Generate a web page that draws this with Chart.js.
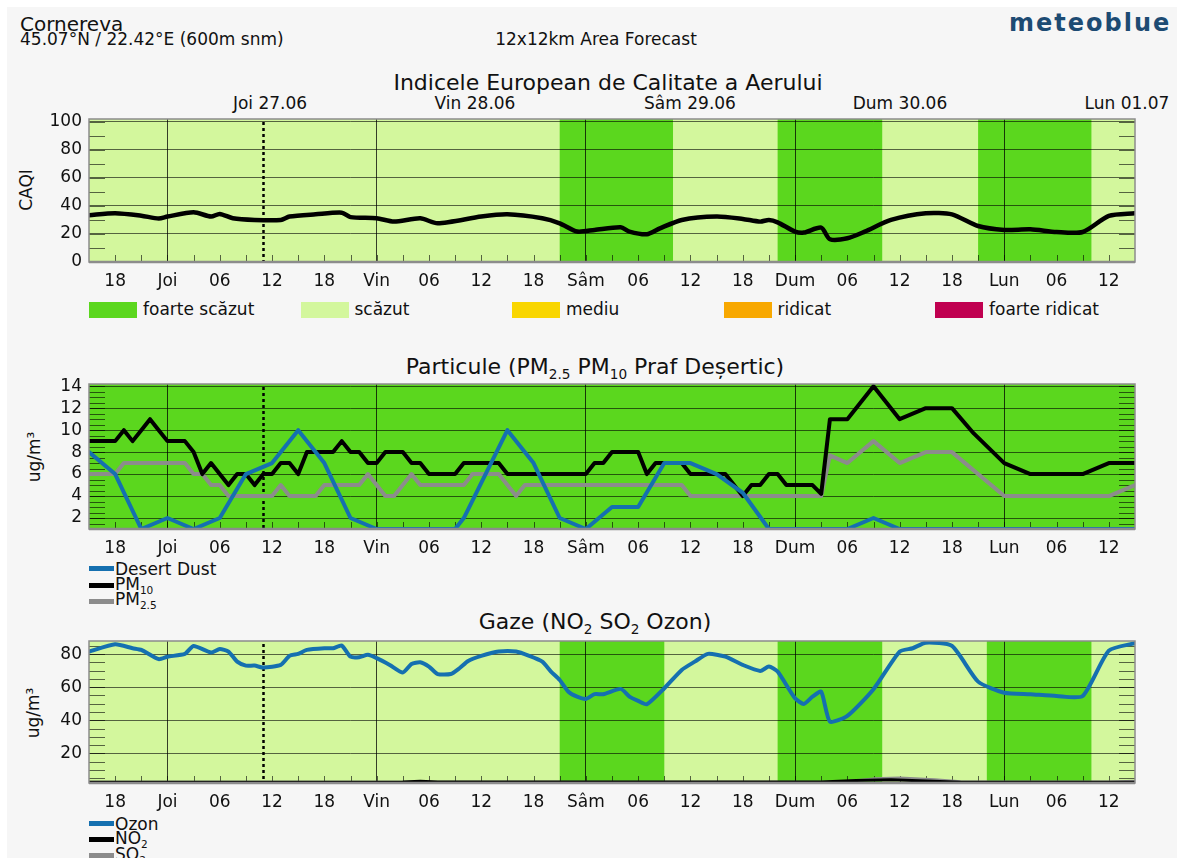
<!DOCTYPE html>
<html>
<head>
<meta charset="utf-8">
<script src="https://cdn.jsdelivr.net/npm/chart.js@4.4.1/dist/chart.umd.min.js"></script>
<style>
  body { margin: 0; width: 1177px; height: 858px; overflow: hidden; background: #fff; position: relative;
         font-family: 'DejaVu Sans', sans-serif; color: #111; }
  #bg { position: absolute; left: 7px; top: 7px; right: 0; bottom: 0; background: #f6f6f6; }
  .t { position: absolute; white-space: nowrap; line-height: 1; font-size: 17px; }
  .c { transform: translateX(-50%); }
  .rot { transform: translate(-50%, -50%) rotate(-90deg); }
  .sw { position: absolute; }
  canvas { position: absolute; left: 0; }
  sub { font-size: 0.62em; vertical-align: -0.35em; line-height: 0; }
</style>
</head>
<body>
<div id="bg"></div>

<div class="t" style="left:20px;top:14px;font-size:20px">Cornereva</div>
<div class="t" style="left:20px;top:31px">45.07°N / 22.42°E (600m snm)</div>
<div class="t c" style="left:596px;top:31px">12x12km Area Forecast</div>
<div class="t" style="left:1009px;top:11px;font-size:24px;font-weight:bold;color:#1d4b73;letter-spacing:2px">meteoblue</div>

<div class="t c" style="left:608px;top:72px;font-size:22px">Indicele European de Calitate a Aerului</div>
<div class="t c" style="left:270px;top:95px">Joi 27.06</div>
<div class="t c" style="left:475px;top:95px">Vin 28.06</div>
<div class="t c" style="left:690px;top:95px">Sâm 29.06</div>
<div class="t c" style="left:900px;top:95px">Dum 30.06</div>
<div class="t c" style="left:1127px;top:95px">Lun 01.07</div>
<div class="t rot" style="left:26px;top:190px">CAQI</div>

<canvas id="caqi" width="1177" height="182" style="top:110px"></canvas>
<div id="legend1"></div>

<div class="t c" style="left:595px;top:356px;font-size:22px">Particule (PM<sub>2.5</sub> PM<sub>10</sub> Praf Deșertic)</div>
<div class="t rot" style="left:34px;top:457px">ug/m³</div>
<canvas id="pm" width="1177" height="184" style="top:375px"></canvas>
<div class="sw" style="left:89px;top:566px;width:25px;height:5px;background:#1570b0"></div>
<div class="t" style="left:115px;top:561px">Desert Dust</div>
<div class="sw" style="left:89px;top:583px;width:25px;height:5px;background:#000"></div>
<div class="t" style="left:115px;top:576px">PM<sub>10</sub></div>
<div class="sw" style="left:89px;top:599px;width:25px;height:5px;background:#8c8c8c"></div>
<div class="t" style="left:115px;top:591px">PM<sub>2.5</sub></div>

<div class="t c" style="left:595px;top:611px;font-size:22px">Gaze (NO<sub>2</sub> SO<sub>2</sub> Ozon)</div>
<div class="t rot" style="left:33px;top:713px">ug/m³</div>
<canvas id="gas" width="1177" height="181" style="top:632px"></canvas>
<div class="sw" style="left:89px;top:821px;width:25px;height:5px;background:#1570b0"></div>
<div class="t" style="left:115px;top:816px">Ozon</div>
<div class="sw" style="left:89px;top:837px;width:25px;height:5px;background:#000"></div>
<div class="t" style="left:115px;top:830px">NO<sub>2</sub></div>
<div class="sw" style="left:89px;top:853px;width:25px;height:5px;background:#8c8c8c"></div>
<div class="t" style="left:115px;top:846px">SO<sub>2</sub></div>

<script>
const FONT = 'DejaVu Sans';
const DARK = '#5bd71e';
const LIGHT = '#d3f79d';

// time axis, hours from 26.06 15:00
const tickHours = [3, 9, 15, 21, 27, 33, 39, 45, 51, 57, 63, 69, 75, 81, 87, 93, 99, 105, 111, 117];
const tickLabels = ['18', 'Joi', '06', '12', '18', 'Vin', '06', '12', '18', 'Sâm', '06', '12', '18', 'Dum', '06', '12', '18', 'Lun', '06', '12'];
const dayStartHours = [9, 33, 57, 81, 105];
const nowHour = 20;

// CAQI
const caqiHours = [0, 3, 6, 8, 9, 12, 14, 15, 16.5, 19, 22, 23, 26, 29, 30, 33, 35, 38, 40, 45, 48, 52, 54, 56, 58, 61, 62, 64, 65.5, 68,
  72, 75, 77, 78, 79, 81, 82, 84, 85, 87, 89, 92, 96, 99, 102, 105, 108, 111, 114, 117, 120];
const caqiValues = [33.4, 34.8, 33, 31, 32.4, 35.5, 32.4, 34.3, 31.2, 30, 30, 32.4, 34, 35.2, 32, 31.2, 28.8, 31.2, 27.6, 32.4,
  34, 31.2, 27.6, 21.7, 22.9, 24.8, 21.7, 19.8, 24, 30, 32.4, 30.7, 28.8, 30, 28.3, 21.7, 21, 24.5, 16.2, 16.9,
  21.7, 30, 34.8, 34, 25.7, 22.9, 23.3, 21.4, 21.4, 32.9, 34.8];
const caqiTicks = [0, 20, 40, 60, 80, 100];
const caqiBands = [[54, 67], [79, 91], [102, 115]];
const caqiLegend = ['foarte scăzut', 'scăzut', 'mediu', 'ridicat', 'foarte ridicat'];
const caqiLegendColors = [DARK, LIGHT, '#f9d600', '#f8a800', '#c00050'];

// particles
const dustHours = [0, 3, 6, 9, 12, 15, 18, 21, 24, 27, 30, 33, 42, 43, 48, 51, 54, 57, 60, 63, 66, 69, 72, 75, 78, 87, 90, 93, 120];
const dustValues = [8, 6, 1, 2, 1, 2, 6, 7, 10, 7, 2, 1, 1, 2, 10, 7, 2, 1, 3, 3, 7, 7, 6, 4.3, 1, 1, 2, 1, 1];
const pm10Hours = [0, 3, 4, 5, 6, 7, 8, 9, 11, 12, 13, 14, 15, 16, 17, 18, 19, 20, 21, 22, 23, 24, 25, 28, 29, 30, 31, 32, 33, 34,
  36, 37, 38, 39, 42, 43, 47, 48, 57, 58, 59, 60, 63, 64, 65, 68, 69, 73, 75, 76, 77, 78, 79, 80, 83, 84, 85, 87, 90, 93,
  96, 99, 101.5, 105, 108, 114, 117, 120];
const pm10Values = [9, 9, 10, 9, 10, 11, 10, 9, 9, 8, 6, 7, 6, 5, 6, 6, 5, 6, 6, 7, 7, 6, 8, 8, 9, 8, 8, 7, 7, 8,
  8, 7, 7, 6, 6, 7, 7, 6, 6, 7, 7, 8, 8, 6, 7, 7, 6, 6, 4, 5, 5, 6, 6, 5, 5, 4.2, 11, 11, 14, 11,
  12, 12, 9.7, 7, 6, 6, 7, 7];
const pm25Hours = [0, 3, 4, 11, 12, 13, 14, 15, 16, 21, 22, 23, 26, 27, 31, 32, 33, 34, 35, 37, 38, 43, 44, 47, 49, 50, 68, 69,
  84, 85, 87, 90, 93, 96, 99, 105, 117, 120];
const pm25Values = [6, 6, 7, 7, 6, 6, 5, 5, 4, 4, 5, 4, 4, 5, 5, 6, 5, 4, 4, 6, 5, 5, 6, 6, 4, 5, 5, 4,
  4, 7.7, 7, 9, 7, 8, 8, 4, 4, 5];
const pmTicks = [2, 4, 6, 8, 10, 12, 14];

// gases
const ozoneHours = [0, 3, 5, 6, 8, 9, 11, 12, 14, 15, 16, 17, 18, 19, 20, 22, 23, 24, 25, 27, 28, 29, 30, 31, 32, 33, 34.5, 36, 37, 38,
  39, 40, 41.5, 42.5, 43.5, 45, 47, 49, 50.5, 52, 53, 54, 55, 56, 57, 58, 59, 61, 62, 63, 64, 66, 68, 69.5, 71, 73, 75, 77, 78, 79,
  81, 82, 83, 84, 85, 87, 90, 93, 94.5, 96, 99, 102, 105, 108, 111, 114, 117, 120];
const ozoneValues = [81.6, 86, 83.6, 82.6, 77, 78.5, 80.2, 85, 81, 83.2, 81.6, 75.5, 73.1, 73.1, 71.9, 73.5, 79, 80.2, 82.6, 83.6,
  83.6, 85.2, 78.5, 78.2, 79.6, 77.6, 73.5, 68.9, 74.1, 75.1, 72.5, 68, 68, 71.5, 75.9, 79, 81.6, 81.6, 79, 75.5,
  69.5, 64.4, 57.3, 54.3, 52.9, 55.8, 55.8, 59, 54.3, 51.7, 49.7, 59.4, 70.5, 75.5, 80.2, 78.5, 73.5, 69.9, 72.5, 69.5,
  53.3, 49.9, 54.3, 57.3, 39.2, 42.6, 58.8, 81.6, 83.6, 87, 85, 63.4, 56.7, 55.8, 54.7, 54.7, 82.2, 86.7];
const no2Hours = [0, 36, 38, 40, 84, 88, 92, 96, 100, 120];
const no2Values = [2.5, 2.6, 3, 2.6, 2.6, 3.5, 4, 3.2, 2.5, 2.5];
const so2Hours = [0, 86, 90, 93, 97, 100, 117, 120];
const so2Values = [2.4, 2.5, 4.5, 5, 4, 2.8, 2.6, 3];
const gasTicks = [20, 40, 60, 80];
const gasBands = [[54, 66], [79, 91], [103, 115]];

// legend under the CAQI panel
document.getElementById('legend1').innerHTML = caqiLegend.map((name, i) => {
  const left = 89 + i * 211.5;
  return `<div class="sw" style="left:${left}px;top:302px;width:48px;height:16px;background:${caqiLegendColors[i]}"></div>` +
    `<div class="t" style="left:${left + 54}px;top:301px">${name}</div>`;
}).join('');

function panelPlugin(cfg) {
  return {
    id: 'panel',
    beforeDraw(chart) {
      const { ctx, chartArea: a, scales: { x } } = chart;
      ctx.save();
      ctx.fillStyle = cfg.base;
      ctx.fillRect(a.left, a.top, a.width, a.height);
      ctx.fillStyle = DARK;
      cfg.bands.forEach(([s, e]) => {
        const x0 = x.getPixelForValue(s);
        ctx.fillRect(x0, a.top, x.getPixelForValue(e) - x0, a.height);
      });
      ctx.restore();
    },
    beforeDatasetsDraw(chart) {
      const { ctx, chartArea: a, scales: { x, y } } = chart;
      ctx.save();
      ctx.strokeStyle = 'rgba(0,0,0,0.6)';
      ctx.lineWidth = 1;
      ctx.beginPath();
      for (let h = 3; h < 120; h += 3) {
        const px = Math.round(x.getPixelForValue(h)) + 0.5;
        ctx.moveTo(px, a.bottom);
        ctx.lineTo(px, a.bottom - 7);
      }
      for (let v = cfg.minorFrom; v < y.max; v += cfg.minorStep) {
        const py = Math.round(y.getPixelForValue(v)) + 0.5;
        ctx.moveTo(a.left, py);
        ctx.lineTo(a.left + 16, py);
        ctx.moveTo(a.right, py);
        ctx.lineTo(a.right - 16, py);
      }
      ctx.stroke();

      // current time
      const nx = Math.round(x.getPixelForValue(nowHour)) + 0.5;
      ctx.strokeStyle = '#000';
      ctx.lineWidth = 2.5;
      ctx.setLineDash([3, 3]);
      ctx.beginPath();
      ctx.moveTo(nx, a.top + 3);
      ctx.lineTo(nx, a.bottom);
      ctx.stroke();
      ctx.restore();
    },
    afterDraw(chart) {
      const { ctx, chartArea: a } = chart;
      ctx.save();
      ctx.strokeStyle = '#8c8c8c';
      ctx.lineWidth = 1.5;
      ctx.strokeRect(a.left, a.top, a.width, a.height);
      ctx.lineWidth = 2.5;
      ctx.beginPath();
      ctx.moveTo(a.left, a.bottom);
      ctx.lineTo(a.right, a.bottom);
      ctx.stroke();
      ctx.restore();
    }
  };
}

const series = (hours, values, color, width) => ({
  data: hours.map((h, i) => ({ x: h, y: values[i] })),
  borderColor: color,
  borderWidth: width || 4,
  tension: 0,
  fill: false
});

function drawPanel(id, datasets, yMin, yMax, yTicks, cfg) {
  return new Chart(document.getElementById(id), {
    type: 'line',
    data: { datasets },
    options: {
      responsive: false,
      animation: false,
      layout: { padding: { top: 9, right: 42, left: 0, bottom: 0 } },
      plugins: { legend: { display: false }, tooltip: { enabled: false } },
      elements: { point: { radius: 0 }, line: { borderJoinStyle: 'round', borderCapStyle: 'round' } },
      scales: {
        x: {
          type: 'linear', min: 0, max: 120,
          afterBuildTicks: s => { s.ticks = tickHours.map(v => ({ value: v })); },
          afterFit: s => { s.height = 30; s.paddingLeft = 0; s.paddingRight = 0; },
          ticks: {
            callback: (v, i) => tickLabels[i], autoSkip: false, maxRotation: 0, padding: 9,
            color: '#111', font: { family: FONT, size: 17 }
          },
          grid: {
            color: c => (c.tick && dayStartHours.includes(c.tick.value)) ? 'rgba(0,0,0,0.75)' : 'rgba(0,0,0,0)',
            drawTicks: false
          },
          border: { display: false }
        },
        y: {
          min: yMin, max: yMax,
          afterBuildTicks: s => { s.ticks = yTicks.map(v => ({ value: v })); },
          afterFit: s => { s.width = 89; s.paddingTop = 0; s.paddingBottom = 0; },
          ticks: { autoSkip: false, padding: 7, color: '#111', font: { family: FONT, size: 17 } },
          grid: { color: 'rgba(0,0,0,0.6)', drawTicks: false },
          border: { display: false }
        }
      }
    },
    plugins: [panelPlugin(cfg)]
  });
}

drawPanel('caqi',
  [Object.assign(series(caqiHours, caqiValues, '#000', 4.5), { tension: 0.25 })],
  0, 102, caqiTicks,
  { base: LIGHT, bands: caqiBands, minorFrom: 10, minorStep: 10 });

drawPanel('pm',
  [
    series(dustHours, dustValues, '#1570b0'),
    series(pm10Hours, pm10Values, '#000'),
    series(pm25Hours, pm25Values, '#8c8c8c')
  ],
  1, 14.2, pmTicks,
  { base: DARK, bands: [], minorFrom: 1.5, minorStep: 0.5 });

drawPanel('gas',
  [
    Object.assign(series(ozoneHours, ozoneValues, '#1570b0'), { tension: 0.2 }),
    series(no2Hours, no2Values, '#000', 3),
    series(so2Hours, so2Values, '#8c8c8c', 3)
  ],
  2, 88, gasTicks,
  { base: LIGHT, bands: gasBands, minorFrom: 5, minorStep: 5 });
</script>
</body>
</html>
